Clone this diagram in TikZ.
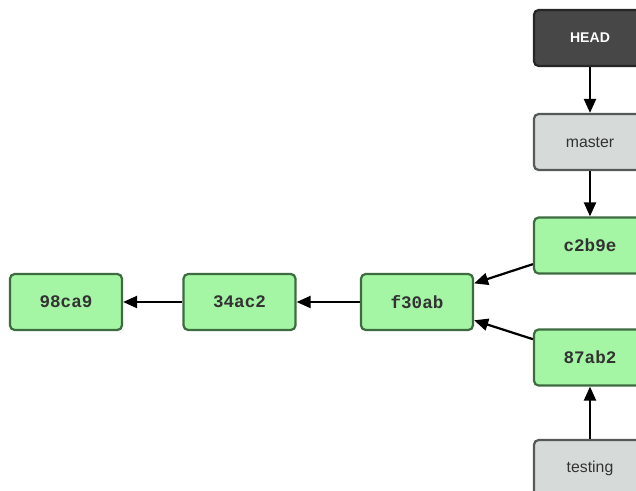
\documentclass[tikz,border=0pt]{standalone}
\usepackage{fontspec}
\setmainfont{Liberation Sans}
\newfontfamily\hashfont{Liberation Mono}
\usepackage{xcolor}
\usetikzlibrary{arrows.meta,positioning}
\definecolor{commitfill}{HTML}{A4F5A4}
\definecolor{commitdraw}{HTML}{3E6B40}
\definecolor{branchfill}{HTML}{D6DBD9}
\definecolor{branchdraw}{HTML}{555A58}
\definecolor{headfill}{HTML}{474747}
\definecolor{headdraw}{HTML}{262626}
\definecolor{labeltext}{HTML}{333333}
\tikzstyle{box} = [rectangle, line width=1.9pt, text centered, rounded corners=4pt, minimum height=1.68cm, minimum width=3.36cm]
\tikzstyle{commit} = [box, draw=commitdraw, fill=commitfill, text=labeltext, font=\hashfont\bfseries\fontsize{15}{18}\selectfont]
\tikzstyle{branch} = [box, draw=branchdraw, fill=branchfill, text=labeltext, font=\fontsize{13.5}{16}\selectfont]
\tikzstyle{headbox} = [box, draw=headdraw, fill=headfill, text=white, font=\bfseries\fontsize{12}{14}\selectfont]
\tikzstyle{line} = [draw, line width=1.9pt, -{Triangle[length=0.42cm,width=0.36cm]}]

\begin{document}
\begin{tikzpicture}[x=0.03cm, y=-0.03cm]
\useasboundingbox (0,0) rectangle (636,490);
\clip (0,0) rectangle (636,490);
% right column: pointers and the two tips
\node [headbox] (head) at (590,38) {HEAD};
\node [branch] (master) at (590,142) {master};
\node [commit] (c2b9e) at (590,245.5) {c2b9e};
\node [commit] (87ab2) at (590,357.5) {87ab2};
\node [branch] (testing) at (590,468) {testing};
% history
\node [commit] (f30ab) at (417,302) {f30ab};
\node [commit] (34ac2) at (239.5,302) {34ac2};
\node [commit] (98ca9) at (66,302) {98ca9};
\path [line] (head) -- (master);
\path [line] (master) -- (c2b9e);
\path [line] (testing) -- (87ab2);
\path [line] (c2b9e) -- (f30ab);
\path [line] (87ab2) -- (f30ab);
\path [line] (f30ab) -- (34ac2);
\path [line] (34ac2) -- (98ca9);
\end{tikzpicture}
\end{document}
